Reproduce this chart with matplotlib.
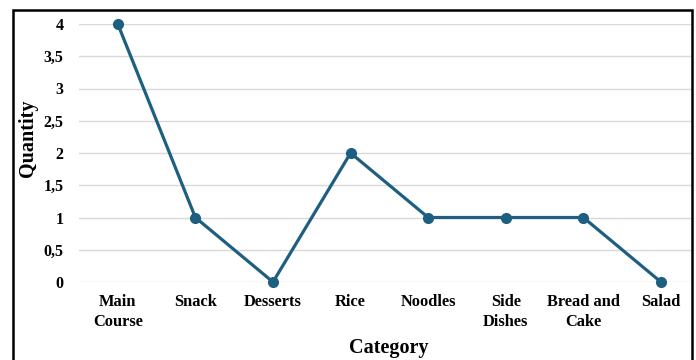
import matplotlib.pyplot as plt
from matplotlib.patches import Rectangle
from matplotlib.ticker import FuncFormatter

categories = ["Main\nCourse", "Snack", "Desserts", "Rice", "Noodles",
              "Side\nDishes", "Bread and\nCake", "Salad"]
quantity = [4, 1, 0, 2, 1, 1, 1, 0]
y_ticks = [0, 0.5, 1, 1.5, 2, 2.5, 3, 3.5, 4]

plt.rcParams["font.family"] = ["Liberation Serif", "DejaVu Serif"]

W, H = 696, 360
fig = plt.figure(figsize=(W / 100, H / 100), dpi=100)
ax = fig.add_axes([79 / W, 1 - 282 / H, (692 - 79) / W, (282 - 24) / H])

x = list(range(len(categories)))
ax.plot(x, quantity, color="#1d5f80", lw=2.3, marker="o", ms=7, clip_on=False, zorder=3)

ax.set_xlim(-0.5, 7.4)
ax.set_ylim(0, 4)
ax.set_yticks(y_ticks)
ax.yaxis.set_major_formatter(FuncFormatter(lambda v, p: f"{v:g}".replace(".", ",")))
ax.set_xticks(x)
ax.set_xticklabels(categories, fontweight="bold", fontsize=11.8, linespacing=1.3)
for lab in ax.get_yticklabels():
    lab.set_fontweight("bold")
    lab.set_fontsize(11.5)

ax.grid(axis="y", color="#d9d9d9", lw=1)
ax.set_axisbelow(True)
for s in ax.spines.values():
    s.set_visible(False)
ax.tick_params(length=0)
ax.tick_params(axis="x", pad=9)
ax.tick_params(axis="y", pad=11)

fig.text(28 / W, 1 - 138 / H, "Quantity", fontsize=14.5, fontweight="bold",
         rotation=90, ha="center", va="center")
fig.text(389 / W, 1 - 348 / H, "Category", fontsize=14.5, fontweight="bold",
         ha="center", va="center")

fig.patches.append(Rectangle((13 / W, -0.1), (692 - 13) / W, 1.1 - 10 / H,
                             transform=fig.transFigure, fill=False,
                             edgecolor="black", lw=1.8))

fig.savefig("out.png", dpi=100)
